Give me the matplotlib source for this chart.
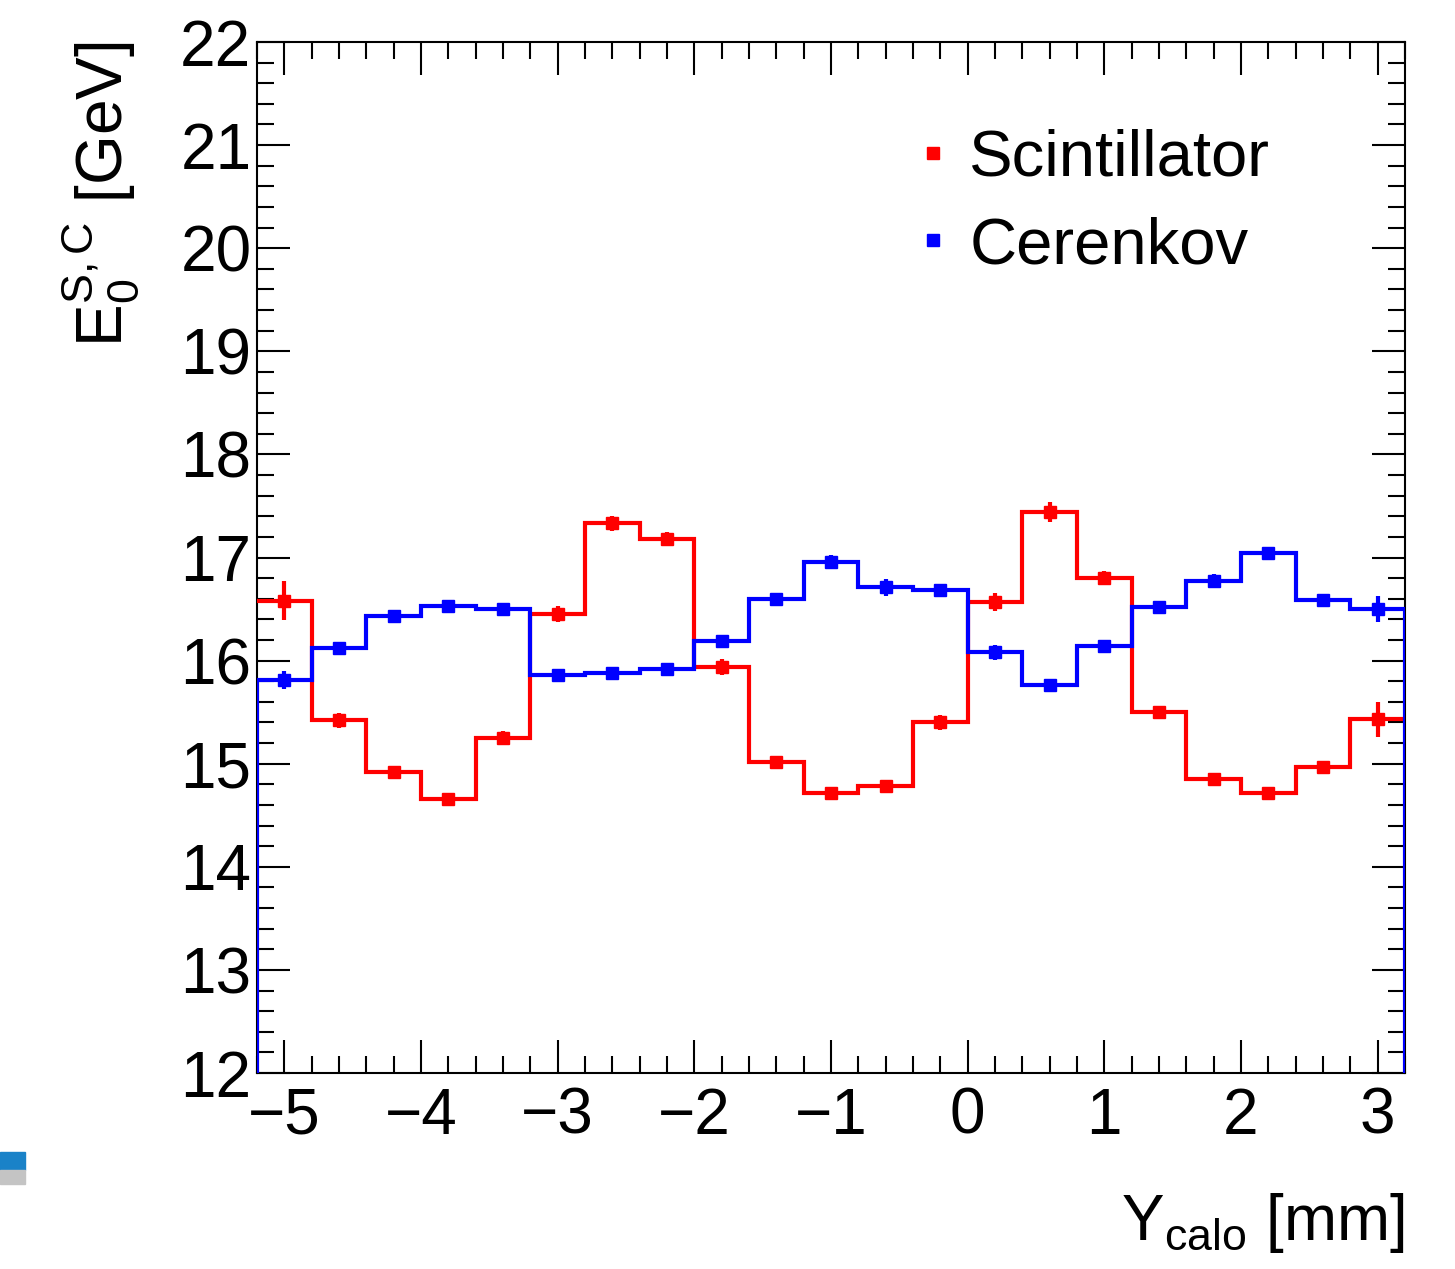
import numpy as np
import matplotlib
matplotlib.use("Agg")
import matplotlib.pyplot as plt
from matplotlib.patches import Rectangle
from matplotlib.lines import Line2D
from matplotlib.ticker import MultipleLocator

plt.rcParams['font.family'] = ['Liberation Sans', 'DejaVu Sans']
plt.rcParams['mathtext.fontset'] = 'custom'
plt.rcParams['mathtext.rm'] = 'Liberation Sans'
plt.rcParams['mathtext.it'] = 'Liberation Sans'
plt.rcParams['mathtext.bf'] = 'Liberation Sans:bold'

# ---- data ----
bin_edges = [-5.2, -4.8, -4.4, -4.0, -3.6, -3.2, -2.8, -2.4, -2.0, -1.6, -1.2,
             -0.8, -0.4, 0.0, 0.4, 0.8, 1.2, 1.6, 2.0, 2.4, 2.8, 3.2]
scint = [16.58, 15.42, 14.92, 14.66, 15.25, 16.45, 17.33, 17.18, 15.94, 15.02, 14.72,
         14.78, 15.40, 16.57, 17.44, 16.80, 15.50, 14.85, 14.72, 14.97, 15.43]
scint_err = [0.19, 0.07, 0.05, 0.05, 0.07, 0.08, 0.07, 0.07, 0.08, 0.05, 0.04,
             0.06, 0.07, 0.09, 0.10, 0.07, 0.06, 0.05, 0.04, 0.06, 0.17]
ceren = [15.81, 16.12, 16.43, 16.53, 16.50, 15.86, 15.88, 15.92, 16.19, 16.60, 16.96,
         16.71, 16.68, 16.08, 15.76, 16.14, 16.52, 16.77, 17.04, 16.59, 16.50]
ceren_err = [0.09, 0.06, 0.05, 0.06, 0.05, 0.05, 0.05, 0.05, 0.05, 0.05, 0.06,
             0.08, 0.06, 0.07, 0.05, 0.05, 0.05, 0.07, 0.06, 0.06, 0.13]
x_ticks = [-5, -4, -3, -2, -1, 0, 1, 2, 3]
y_ticks = [12, 13, 14, 15, 16, 17, 18, 19, 20, 21, 22]
labels = ["Scintillator", "Cerenkov"]

RED = '#ff0000'
BLUE = '#0000ff'

fig = plt.figure(figsize=(14.55, 12.69), dpi=100)
ax = fig.add_axes([257/1455, 1 - 1073/1269, (1405-257)/1455, (1073-42)/1269])

edges = np.array(bin_edges)
centers = 0.5 * (edges[:-1] + edges[1:])
lw = 3.0

# Scintillator histogram (no baseline drops)
ax.stairs(scint, edges, color=RED, lw=lw, baseline=None, zorder=3)
ax.errorbar(centers, scint, yerr=scint_err, fmt='s', color=RED, ms=8,
            elinewidth=lw, capsize=0, zorder=4)
# Cerenkov histogram (drops to baseline at edges)
ax.stairs(ceren, edges, color=BLUE, lw=lw, baseline=12, zorder=5)
ax.errorbar(centers, ceren, yerr=ceren_err, fmt='s', color=BLUE, ms=8,
            elinewidth=lw, capsize=0, zorder=6)

ax.set_xlim(edges[0], edges[-1])
ax.set_ylim(y_ticks[0], y_ticks[-1])
ax.set_xticks(x_ticks)
ax.set_yticks(y_ticks)
ax.xaxis.set_minor_locator(MultipleLocator(0.2))
ax.yaxis.set_minor_locator(MultipleLocator(0.2))
ax.tick_params(which='both', direction='in', top=True, right=True, width=1.5,
               labelsize=46)
ax.tick_params(axis='x', pad=10)
ax.tick_params(axis='y', pad=4)
ax.tick_params(which='major', length=24)
ax.tick_params(which='minor', length=12)
for s in ax.spines.values():
    s.set_linewidth(1.5)

ax.set_xlabel(r'Y$_{\mathregular{calo}}$ [mm]', fontsize=46, loc='right', labelpad=32)
ax.set_ylabel(r'E$_{0}^{\mathregular{S,C}}$ [GeV]', fontsize=46, loc='top', labelpad=28)

handles = [Line2D([], [], ls='none', marker='s', ms=8, color=RED),
           Line2D([], [], ls='none', marker='s', ms=8, color=BLUE)]
ax.legend(handles, labels, loc='upper left', bbox_to_anchor=(0.575, 0.916),
          frameon=False, fontsize=47, handlelength=0.5, handletextpad=0.3,
          labelspacing=0.42, borderaxespad=0, borderpad=0)

# decoration in lower-left corner
fig.patches.append(Rectangle((0, 1 - 1170/1269), 25/1455, 18/1269,
                             transform=fig.transFigure, color='#1a82c8', zorder=1))
fig.patches.append(Rectangle((0, 1 - 1184/1269), 25/1455, 14/1269,
                             transform=fig.transFigure, color='#c4c4c4', zorder=1))

fig.savefig('out.png', dpi=100)
